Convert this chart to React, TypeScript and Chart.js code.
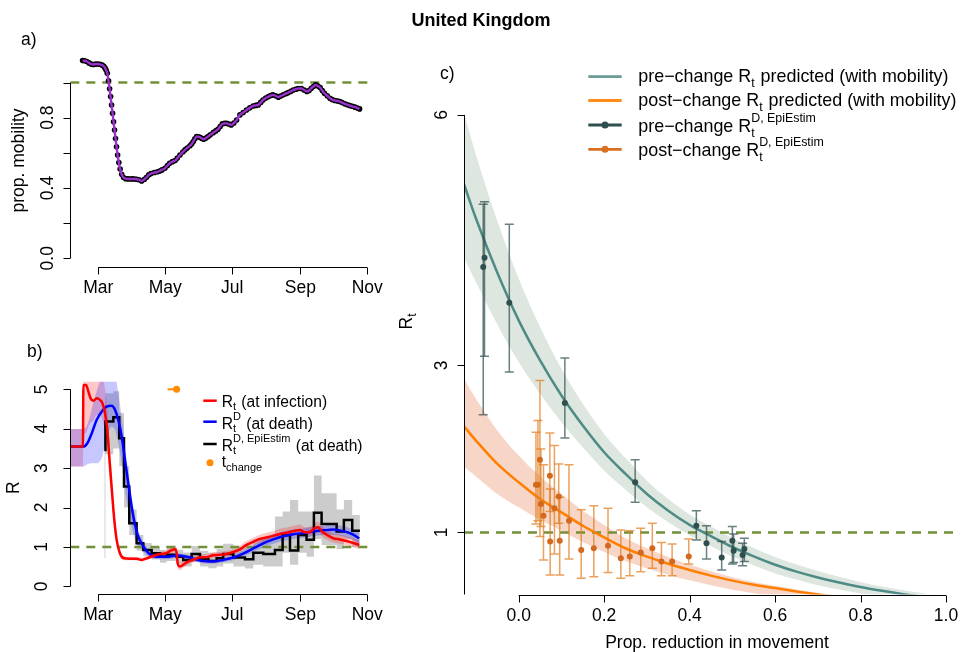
import React, { useEffect, useRef } from "react";
import { Chart, registerables } from "chart.js";

Chart.register(...registerables);

const W = 962;
const H = 652;
const FONT = '"Liberation Sans", Arial, Helvetica, sans-serif';
const FS = 17.5;

// ---------------- Panel a: mobility ----------------
const mobilityDays = [
  -14.3, -12.5, -10.5, -8.5, -6.5, -4.5, -2.5, -0.5, 1.5, 3.5,
  5, 6.2, 7.2, 8.2, 9.3, 10.3, 11.2, 12.1, 13, 13.9,
  14.8, 15.7, 16.6, 17.6, 18.7, 19.9, 21.3, 23, 25, 27,
  29, 31, 33, 35, 37, 39.5, 42, 44, 46, 48,
  51, 54, 56, 58, 60.7, 63, 65, 67.5, 70, 72,
  74.4, 77, 79, 81, 83.5, 85, 86.5, 88, 89.6, 91,
  92.6, 94, 96, 98, 100, 102, 104.7, 107, 109, 111,
  113, 115, 117, 119, 121, 123.5, 126, 129, 132, 135,
  138, 141, 143.5, 145.7, 148, 150, 152.5, 155, 157, 159,
  161.5, 164, 166, 168.5, 171, 173, 175.5, 177.6, 180, 182,
  185, 187.5, 190, 192, 194, 196, 198, 200, 202, 204,
  206, 208.5, 211, 213, 215.5, 218, 220, 222, 224.6, 227,
  229, 231.5, 233.8, 236, 238,
];
const mobilityValues = [
  1.125, 1.124, 1.12, 1.112, 1.105, 1.103, 1.105, 1.106, 1.104, 1.099,
  1.093, 1.082, 1.07, 1.053, 1.01, 0.965, 0.92, 0.872, 0.825, 0.777,
  0.73, 0.682, 0.635, 0.588, 0.545, 0.508, 0.478, 0.46, 0.453, 0.452,
  0.451, 0.452, 0.451, 0.45, 0.447, 0.44, 0.45, 0.461, 0.475, 0.482,
  0.488, 0.492, 0.497, 0.503, 0.512, 0.528, 0.541, 0.55, 0.556, 0.57,
  0.588, 0.605, 0.617, 0.628, 0.64, 0.65, 0.664, 0.68, 0.693, 0.692,
  0.689, 0.683, 0.677, 0.684, 0.693, 0.703, 0.715, 0.725, 0.734, 0.75,
  0.765, 0.768, 0.768, 0.764, 0.759, 0.77, 0.787, 0.816, 0.83, 0.844,
  0.856, 0.867, 0.87, 0.873, 0.887, 0.901, 0.912, 0.92, 0.926, 0.93,
  0.925, 0.917, 0.923, 0.93, 0.937, 0.943, 0.95, 0.958, 0.962, 0.966,
  0.966, 0.958, 0.949, 0.955, 0.968, 0.978, 0.987, 0.98, 0.972, 0.955,
  0.939, 0.925, 0.911, 0.903, 0.898, 0.895, 0.892, 0.886, 0.879, 0.874,
  0.869, 0.865, 0.86, 0.855, 0.85,
];

// month ticks (days since 1 March)
const monthDays = [0, 61, 122, 184, 245];
const monthLabels = ["Mar", "May", "Jul", "Sep", "Nov"];
const dayMin = -25.5;
const dayMax = 248.4;

const mobilityTicks = [0, 0.2, 0.4, 0.6, 0.8, 1.0];
const mobilityTickLabels = ["0.0", "", "0.4", "", "0.8", ""];
const referenceLevel = 1;

// ---------------- Panel b: R over time ----------------
const rInfDays = [
  -25, -14, -13.6, -11.2, -9, -7, -4.6, -1.5, 1.5, 4,
  6.1, 8.2, 10, 12.1, 14.3, 16.7, 19.7, 23.4, 28.8, 34.9,
  39.5, 44, 50, 56, 62, 66.8, 70.4, 71.6, 72.3, 74.4,
  78.9, 83.5, 88, 92.6, 98.7, 104.7, 110.8, 116.9, 123, 129,
  135, 141, 147, 153, 159, 165.5, 171.5, 177.6, 183.7, 188.2,
  192.8, 197.3, 200.4, 203.4, 208, 214, 220, 226, 232.2, 237.7,
];
const rInfValues = [
  3.545, 3.545, 5.11, 5.11, 4.94, 4.77, 4.71, 4.77, 4.73, 4.63,
  4.39, 3.97, 3.29, 2.53, 1.77, 1.18, 0.84, 0.71, 0.7, 0.7,
  0.67, 0.71, 0.77, 0.82, 0.84, 0.92, 0.94, 0.8, 0.58, 0.5,
  0.58, 0.65, 0.69, 0.74, 0.74, 0.79, 0.8, 0.82, 0.87, 0.94,
  1.05, 1.13, 1.2, 1.24, 1.28, 1.33, 1.36, 1.4, 1.43, 1.37,
  1.38, 1.48, 1.5, 1.4, 1.31, 1.22, 1.19, 1.15, 1.1, 1.05,
];
const rInfLower = [
  3.04, 3.04, 3.7, 3.9, 4.05, 4.15, 4.2, 4.35, 4.35, 4.2,
  3.95, 3.5, 2.85, 2.2, 1.55, 1.05, 0.77, 0.66, 0.66, 0.66,
  0.63, 0.67, 0.72, 0.77, 0.78, 0.85, 0.86, 0.7, 0.46, 0.41,
  0.5, 0.58, 0.62, 0.67, 0.67, 0.72, 0.73, 0.75, 0.8, 0.86,
  0.96, 1.04, 1.1, 1.13, 1.17, 1.21, 1.24, 1.28, 1.3, 1.25,
  1.26, 1.35, 1.37, 1.28, 1.19, 1.11, 1.08, 1.04, 0.99, 0.94,
];
const rInfUpper = [
  3.99, 3.99, 5.9, 5.9, 5.7, 5.5, 5.4, 5.45, 5.4, 5.3,
  5.0, 4.5, 3.75, 2.9, 2.0, 1.33, 0.92, 0.77, 0.75, 0.75,
  0.72, 0.76, 0.83, 0.88, 0.91, 1.0, 1.03, 0.92, 0.72, 0.62,
  0.67, 0.73, 0.77, 0.82, 0.82, 0.87, 0.88, 0.9, 0.95, 1.03,
  1.15, 1.23, 1.31, 1.36, 1.4, 1.46, 1.49, 1.53, 1.57, 1.5,
  1.51, 1.62, 1.64, 1.53, 1.44, 1.34, 1.31, 1.27, 1.22, 1.17,
];

const rDeathDays = [
  -25, -13.7, -10, -6, -1.5, 3, 7.6, 12.1, 15.2, 18.2,
  21.3, 24.3, 27.3, 30.4, 33.4, 36.4, 41, 45.5, 50.1, 56.2,
  62.2, 71.3, 80.4, 89.6, 95.6, 104.7, 113.8, 123, 132, 141.2,
  150.3, 159.4, 168.5, 177.6, 186.7, 195.8, 205, 214, 223.1, 230.7,
  237.7,
];
const rDeathValues = [
  3.545, 3.545, 3.63, 3.88, 4.22, 4.43, 4.56, 4.58, 4.48, 4.22,
  3.8, 3.21, 2.61, 2.02, 1.56, 1.26, 1.01, 0.85, 0.77, 0.75,
  0.75, 0.78, 0.75, 0.68, 0.64, 0.63, 0.67, 0.73, 0.83, 0.96,
  1.09, 1.19, 1.27, 1.32, 1.35, 1.39, 1.42, 1.44, 1.4, 1.33,
  1.22,
];
const rDeathLower = [
  3.04, 3.04, 3.1, 3.12, 3.12, 3.25, 3.75, 4.05, 3.97, 3.63,
  3.12, 2.44, 1.95, 1.5, 1.2, 1.05, 0.88, 0.76, 0.7, 0.69,
  0.69, 0.72, 0.69, 0.62, 0.58, 0.57, 0.61, 0.66, 0.75, 0.87,
  0.99, 1.08, 1.15, 1.2, 1.23, 1.27, 1.3, 1.31, 1.27, 1.2,
  1.08,
];
const rDeathUpper = [
  3.99, 3.99, 4.1, 4.5, 4.95, 5.3, 5.5, 5.5, 5.4, 4.9,
  4.3, 3.6, 2.9, 2.3, 1.8, 1.42, 1.13, 0.94, 0.84, 0.81,
  0.81, 0.84, 0.81, 0.74, 0.7, 0.69, 0.73, 0.8, 0.91, 1.05,
  1.19, 1.3, 1.39, 1.44, 1.47, 1.51, 1.54, 1.57, 1.53, 1.46,
  1.36,
];

const epiDays = [
  5.5, 6.5, 13.7, 19.1, 23.4, 28.2, 34.9, 41, 48.6, 56.2,
  62.2, 71.3, 77.4, 85, 92.6, 100.2, 107.8, 113.8, 123, 133.6,
  141.2, 150.3, 160.9, 167.9, 174.6, 182.1, 189.7, 196.4, 203.4, 217.1,
  223.7, 231.3, 238.3,
];
const epiValues = [
  3.46, 4.18, 4.29, 3.76, 2.53, 1.6, 1.09, 0.92, 0.84, 0.75,
  0.8, 0.75, 0.67, 0.82, 0.69, 0.64, 0.71, 0.82, 0.73, 0.69,
  0.85, 0.82, 0.92, 1.3, 0.91, 1.3, 1.18, 1.87, 1.58, 1.39,
  1.68, 1.41, 1.41,
];
const epiLower = [
  0.72, 3.35, 3.5, 3.05, 2.0, 1.3, 0.9, 0.76, 0.68, 0.6,
  0.64, 0.58, 0.5, 0.62, 0.5, 0.46, 0.5, 0.58, 0.5, 0.45,
  0.55, 0.5, 0.5, 0.85, 0.55, 0.85, 0.75, 1.2, 1.05, 0.95,
  1.2, 1.0, 1.0,
];
const epiUpper = [
  4.6, 4.9, 4.95, 4.4, 3.05, 1.95, 1.3, 1.1, 1.0, 0.92,
  0.97, 0.93, 0.86, 1.02, 0.9, 0.85, 0.95, 1.08, 1.0, 0.98,
  1.2, 1.25, 1.77, 1.9, 2.19, 1.9, 1.9, 2.81, 2.36, 1.95,
  2.19, 1.81, 1.81,
];

const tChangeDays = [63.1, 71.3];
const tChangeLevel = 5;
const rTicks = [0, 1, 2, 3, 4, 5];

// ---------------- Panel c: R vs reduction in movement ----------------
const reductionGrid = [
  -0.128, -0.1, -0.05, 0, 0.05, 0.1, 0.15, 0.2, 0.25, 0.3,
  0.35, 0.4, 0.45, 0.5, 0.55, 0.6, 0.65, 0.7, 0.75, 0.8,
  0.85, 0.9, 0.95, 1.0, 1.03,
];
const preCurve = [
  5.17, 4.76, 4.11, 3.54, 3.06, 2.64, 2.28, 1.96, 1.7, 1.46,
  1.26, 1.09, 0.955, 0.825, 0.712, 0.612, 0.53, 0.46, 0.4, 0.345,
  0.3, 0.26, 0.226, 0.196, 0.18,
];
const preLower = [
  4.29, 4.0, 3.49, 3.04, 2.66, 2.32, 2.02, 1.74, 1.51, 1.3,
  1.12, 0.965, 0.835, 0.71, 0.605, 0.508, 0.435, 0.368, 0.316, 0.269,
  0.231, 0.198, 0.17, 0.147, 0.135,
];
const preUpper = [
  6.02, 5.52, 4.73, 4.04, 3.46, 2.96, 2.54, 2.18, 1.89, 1.62,
  1.4, 1.215, 1.07, 0.932, 0.812, 0.704, 0.615, 0.538, 0.468, 0.404,
  0.351, 0.307, 0.267, 0.231, 0.212,
];
const postCurve = [
  2.27, 2.1, 1.82, 1.6, 1.4, 1.24, 1.08, 0.94, 0.81, 0.71,
  0.625, 0.55, 0.482, 0.422, 0.372, 0.333, 0.293, 0.256, 0.225, 0.2,
  0.18, 0.162, 0.145, 0.13, 0.12,
];
const postLower = [
  1.79, 1.67, 1.46, 1.3, 1.15, 1.02, 0.886, 0.766, 0.656, 0.568,
  0.494, 0.426, 0.366, 0.314, 0.272, 0.24, 0.208, 0.18, 0.158, 0.14,
  0.126, 0.113, 0.1, 0.09, 0.084,
];
const postUpper = [
  2.84, 2.6, 2.22, 1.92, 1.67, 1.46, 1.26, 1.09, 0.93, 0.81,
  0.706, 0.616, 0.535, 0.464, 0.405, 0.36, 0.316, 0.277, 0.243, 0.216,
  0.194, 0.175, 0.157, 0.14, 0.13,
];

const preX = [-0.083, -0.08, -0.022, 0.108, 0.2725, 0.4157, 0.4395, 0.475, 0.5, 0.503, 0.524, 0.528];
const preR = [4.18, 4.29, 3.75, 2.55, 1.6, 1.08, 0.87, 0.7, 0.9, 0.78, 0.73, 0.8];
const preLo = [2.41, 3.11, 2.92, 2.13, 1.36, 0.91, 0.68, 0.55, 0.62, 0.64, 0.6, 0.65];
const preHi = [4.93, 4.96, 4.69, 3.09, 1.87, 1.26, 1.08, 0.89, 1.07, 0.98, 0.87, 0.93];

const postX = [
  0.0404, 0.045, 0.0497, 0.052, 0.058, 0.073, 0.0736, 0.0836, 0.0937, 0.096,
  0.1177, 0.1463, 0.1758, 0.209, 0.239, 0.26, 0.2856, 0.3127, 0.334, 0.359, 0.398,
];
const postR = [
  1.57, 1.57, 1.87, 1.34, 1.2, 1.68, 0.89, 1.29, 1.43, 0.9,
  1.14, 0.79, 0.81, 0.84, 0.69, 0.71, 0.76, 0.81, 0.65, 0.65, 0.71,
];
const postLo = [
  1.1, 1.14, 0.95, 1.07, 0.67, 1.25, 0.49, 0.74, 1.11, 0.49,
  0.68, 0.45, 0.47, 0.52, 0.45, 0.48, 0.53, 0.57, 0.48, 0.48, 0.62,
];
const postHi = [
  2.2, 2.34, 2.82, 2.0, 1.81, 2.19, 1.52, 2.04, 1.82, 1.42,
  1.81, 1.27, 1.32, 1.29, 1.03, 1.02, 1.05, 1.11, 0.88, 0.86, 0.92,
];

const reductionTicks = [0, 0.2, 0.4, 0.6, 0.8, 1.0];
const reductionTickLabels = ["0.0", "0.2", "0.4", "0.6", "0.8", "1.0"];
const rtTicks = [1, 3, 6];
const redMin = -0.128;
const redMax = 1.028;

// ---------------- colours ----------------
const GREEN_DASH = "#73903A";
const PURPLE = "#9A32CD";
const TEAL_LINE = "#4E8B85";
const TEAL_DARK = "#2F4F4F";
const ORANGE_LINE = "#FF7F00";
const ORANGE_PT = "#D2691E";

// ---------------- helpers ----------------
const pts = (xs: number[], ys: number[]) => xs.map((x, i) => ({ x, y: ys[i] }));

type Seg = { t?: string; sup?: string; sub?: string };
type RichStyle = { size: number; small: number; raise: number; drop: number; dropBoth: number };

const RICH_C: RichStyle = { size: 17.9, small: 12.4, raise: 9.2, drop: 4.5, dropBoth: 5.5 };
const RICH_B: RichStyle = { size: 15.6, small: 11, raise: 8.2, drop: 3.8, dropBoth: 3.8 };
const RICH_AX: RichStyle = { size: FS, small: 12.2, raise: 9, drop: 4, dropBoth: 5 };

function drawRich(ctx: CanvasRenderingContext2D, x: number, y: number, segs: Seg[], st: RichStyle, measureOnly = false): number {
  let cx = x;
  for (const s of segs) {
    if (s.t !== undefined) {
      ctx.font = `${st.size}px ${FONT}`;
      if (!measureOnly) ctx.fillText(s.t, cx, y);
      cx += ctx.measureText(s.t).width;
    } else {
      ctx.font = `${st.small}px ${FONT}`;
      let w = 0;
      if (s.sup) {
        if (!measureOnly) ctx.fillText(s.sup, cx, y - st.raise);
        w = Math.max(w, ctx.measureText(s.sup).width);
      }
      if (s.sub) {
        if (!measureOnly) ctx.fillText(s.sub, cx, y + (s.sup ? st.dropBoth : st.drop));
        w = Math.max(w, ctx.measureText(s.sub).width);
      }
      cx += w + 1;
    }
  }
  return cx - x;
}

function rotLabel(ctx: CanvasRenderingContext2D, text: string, x: number, y: number, size = FS) {
  ctx.save();
  ctx.translate(x, y);
  ctx.rotate(-Math.PI / 2);
  ctx.font = `${size}px ${FONT}`;
  ctx.textAlign = "center";
  ctx.textBaseline = "alphabetic";
  ctx.fillText(text, 0, 0);
  ctx.restore();
}

function drawXAxis(chart: any, ticks: number[], labels: string[], from: number, to: number) {
  const ctx: CanvasRenderingContext2D = chart.ctx;
  const sx = chart.scales.x;
  const y0 = Math.round(chart.chartArea.bottom) + 0.5;
  ctx.save();
  ctx.strokeStyle = "#000";
  ctx.lineWidth = 1;
  ctx.beginPath();
  ctx.moveTo(sx.getPixelForValue(from), y0);
  ctx.lineTo(sx.getPixelForValue(to), y0);
  ticks.forEach((t) => {
    const px = Math.round(sx.getPixelForValue(t)) + 0.5;
    ctx.moveTo(px, y0);
    ctx.lineTo(px, y0 + 7);
  });
  ctx.stroke();
  ctx.fillStyle = "#000";
  ctx.font = `${FS}px ${FONT}`;
  ctx.textAlign = "center";
  ctx.textBaseline = "alphabetic";
  ticks.forEach((t, i) => {
    if (labels[i]) ctx.fillText(labels[i], sx.getPixelForValue(t), chart.chartArea.bottom + 26);
  });
  ctx.restore();
}

function drawYAxis(chart: any, ticks: number[], labels: string[], from: number, to: number | null, labelX: number) {
  const ctx: CanvasRenderingContext2D = chart.ctx;
  const sy = chart.scales.y;
  const x0 = Math.round(chart.chartArea.left) + 0.5;
  ctx.save();
  ctx.strokeStyle = "#000";
  ctx.lineWidth = 1;
  ctx.beginPath();
  ctx.moveTo(x0, sy.getPixelForValue(from));
  ctx.lineTo(x0, to === null ? chart.chartArea.bottom : sy.getPixelForValue(to));
  ticks.forEach((t) => {
    const py = Math.round(sy.getPixelForValue(t)) + 0.5;
    ctx.moveTo(x0, py);
    ctx.lineTo(x0 - 7, py);
  });
  ctx.stroke();
  ctx.fillStyle = "#000";
  ticks.forEach((t, i) => {
    if (labels[i]) rotLabel(ctx, labels[i], labelX, sy.getPixelForValue(t));
  });
  ctx.restore();
}

function baseOptions(xMin: number, xMax: number, yMin: number, yMax: number, padding: any) {
  return {
    animation: false,
    responsive: false,
    events: [],
    layout: { padding },
    plugins: { legend: { display: false }, tooltip: { enabled: false }, title: { display: false } },
    scales: {
      x: { type: "linear", min: xMin, max: xMax, display: false },
      y: { type: "linear", min: yMin, max: yMax, display: false },
    },
    elements: { point: { radius: 0 }, line: { tension: 0 } },
  };
}

// datasets given bottom -> top; assign order so later ones draw on top
function ordered(list: any[]) {
  const n = list.length;
  return list.map((d, i) => ({ ...d, order: n - i }));
}

function band(upper: any[], lower: any[], color: string, lowerIndex: number, stepped = false) {
  return [
    { data: upper, borderWidth: 0, borderColor: "rgba(0,0,0,0)", backgroundColor: color, pointRadius: 0, fill: lowerIndex, stepped, cubicInterpolationMode: stepped ? "default" : "monotone" },
    { data: lower, borderWidth: 0, borderColor: "rgba(0,0,0,0)", pointRadius: 0, fill: false, stepped, cubicInterpolationMode: stepped ? "default" : "monotone" },
  ];
}

// ---------------- chart builders ----------------
function buildA(canvas: HTMLCanvasElement) {
  const datasets = ordered([
    { data: [{ x: dayMin, y: referenceLevel }, { x: dayMax, y: referenceLevel }], borderColor: GREEN_DASH, borderWidth: 2.5, borderDash: [9, 7], pointRadius: 0 },
    { data: pts(mobilityDays, mobilityValues), showLine: false, pointRadius: 2.8, pointBackgroundColor: "#000", pointBorderWidth: 0 },
    { data: pts(mobilityDays, mobilityValues), borderColor: PURPLE, borderWidth: 2.4, pointRadius: 0, cubicInterpolationMode: "monotone" },
  ]);
  const plugin = {
    id: "axesA",
    afterDraw(chart: any) {
      const ctx: CanvasRenderingContext2D = chart.ctx;
      drawXAxis(chart, monthDays, monthLabels, monthDays[0], monthDays[monthDays.length - 1]);
      drawYAxis(chart, mobilityTicks, mobilityTickLabels, 0, 1.0, 53);
      ctx.save();
      ctx.fillStyle = "#000";
      rotLabel(ctx, "prop. mobility", 24, 160.5);
      ctx.font = `bold 18px ${FONT}`;
      ctx.textAlign = "center";
      ctx.fillText("United Kingdom", 481, 26);
      ctx.font = `${FS}px ${FONT}`;
      ctx.textAlign = "left";
      ctx.fillText("a)", 21, 45);
      ctx.fillText("b)", 27, 357);
      ctx.fillText("c)", 440, 79);
      ctx.restore();
    },
  };
  return new Chart(canvas, {
    type: "line",
    data: { datasets },
    options: baseOptions(dayMin, dayMax, -0.048, 1.1626, { left: 70.3, right: W - 371, top: 54, bottom: H - 266.7 }) as any,
    plugins: [plugin],
  } as any);
}

function buildB(canvas: HTMLCanvasElement) {
  const list: any[] = [];
  list.push(...band(pts(epiDays, epiUpper), pts(epiDays, epiLower), "rgba(0,0,0,0.2)", 1, true)); // 0,1
  list.push(...band(pts(rInfDays, rInfUpper), pts(rInfDays, rInfLower), "rgba(255,0,0,0.22)", 3)); // 2,3
  list.push(...band(pts(rDeathDays, rDeathUpper), pts(rDeathDays, rDeathLower), "rgba(0,0,255,0.22)", 5)); // 4,5
  list.push({ data: [{ x: dayMin, y: referenceLevel }, { x: dayMax, y: referenceLevel }], borderColor: GREEN_DASH, borderWidth: 2.5, borderDash: [9, 7], pointRadius: 0 });
  list.push({ data: pts(epiDays, epiValues), borderColor: "#000", borderWidth: 2.5, stepped: true, pointRadius: 0 });
  list.push({ data: pts(rDeathDays, rDeathValues), borderColor: "#0000FF", borderWidth: 2.5, pointRadius: 0, cubicInterpolationMode: "monotone" });
  list.push({ data: pts(rInfDays, rInfValues), borderColor: "#FF0000", borderWidth: 2.5, pointRadius: 0, cubicInterpolationMode: "monotone" });
  list.push({
    data: tChangeDays.map((d) => ({ x: d, y: tChangeLevel })),
    borderColor: "#FF8C00", borderWidth: 2, pointRadius: [0, 3.5], pointBackgroundColor: "#FF8C00", pointBorderWidth: 0,
  });
  const datasets = ordered(list);
  const plugin = {
    id: "axesB",
    afterDraw(chart: any) {
      const ctx: CanvasRenderingContext2D = chart.ctx;
      drawXAxis(chart, monthDays, monthLabels, monthDays[0], monthDays[monthDays.length - 1]);
      drawYAxis(chart, rTicks, rTicks.map(String), 0, 5, 47);
      ctx.save();
      ctx.fillStyle = "#000";
      rotLabel(ctx, "R", 19, 487.8);
      const lx = 221.7;
      const rows: { seg: Seg[]; y: number; my: number; color: string; point?: boolean }[] = [
        { seg: [{ t: "R" }, { sub: "t" }, { t: " (at infection)" }], y: 406.5, my: 400.7, color: "#FF0000" },
        { seg: [{ t: "R" }, { sup: "D", sub: "t" }, { t: " (at death)" }], y: 428.5, my: 421.7, color: "#0000FF" },
        { seg: [{ t: "R" }, { sup: "D, EpiEstim", sub: "t" }, { t: " (at death)" }], y: 450.5, my: 444, color: "#000" },
        { seg: [{ t: "t" }, { sub: "change" }], y: 467, my: 462.7, color: "#FF8C00", point: true },
      ];
      rows.forEach((r) => {
        if (r.point) {
          ctx.fillStyle = r.color;
          ctx.beginPath();
          ctx.arc(210, r.my, 3.5, 0, Math.PI * 2);
          ctx.fill();
        } else {
          ctx.strokeStyle = r.color;
          ctx.lineWidth = 2.5;
          ctx.beginPath();
          ctx.moveTo(203.3, r.my);
          ctx.lineTo(216.7, r.my);
          ctx.stroke();
        }
        ctx.fillStyle = "#000";
        ctx.textAlign = "left";
        drawRich(ctx, lx, r.y, r.seg, RICH_B);
      });
      ctx.restore();
    },
  };
  return new Chart(canvas, {
    type: "line",
    data: { datasets },
    options: baseOptions(dayMin, dayMax, -0.2, 5.2, { left: 70.3, right: W - 371, top: 381.4, bottom: H - 594.2 }) as any,
    plugins: [plugin],
  } as any);
}

function drawErrorBars(chart: any, xs: number[], los: number[], his: number[], color: string) {
  const ctx: CanvasRenderingContext2D = chart.ctx;
  const sx = chart.scales.x;
  const sy = chart.scales.y;
  ctx.save();
  ctx.strokeStyle = color;
  ctx.lineWidth = 1.5;
  xs.forEach((x, i) => {
    const px = sx.getPixelForValue(x);
    const y1 = sy.getPixelForValue(los[i]);
    const y2 = sy.getPixelForValue(his[i]);
    ctx.beginPath();
    ctx.moveTo(px, y1);
    ctx.lineTo(px, y2);
    ctx.moveTo(px - 4.5, y1);
    ctx.lineTo(px + 4.5, y1);
    ctx.moveTo(px - 4.5, y2);
    ctx.lineTo(px + 4.5, y2);
    ctx.stroke();
  });
  ctx.restore();
}

function buildC(canvas: HTMLCanvasElement) {
  const list: any[] = [];
  list.push(...band(pts(reductionGrid, preUpper), pts(reductionGrid, preLower), "rgba(100,140,110,0.22)", 1)); // 0,1
  list.push(...band(pts(reductionGrid, postUpper), pts(reductionGrid, postLower), "rgba(230,120,70,0.3)", 3)); // 2,3
  list.push({ data: [{ x: redMin, y: referenceLevel }, { x: redMax, y: referenceLevel }], borderColor: GREEN_DASH, borderWidth: 2.5, borderDash: [9, 7], pointRadius: 0 });
  list.push({ data: pts(reductionGrid, postCurve), borderColor: ORANGE_LINE, borderWidth: 2.5, pointRadius: 0, cubicInterpolationMode: "monotone" });
  list.push({ data: pts(reductionGrid, preCurve), borderColor: TEAL_LINE, borderWidth: 2.5, pointRadius: 0, cubicInterpolationMode: "monotone" });
  const POST_PTS = list.length;
  list.push({ data: pts(postX, postR), showLine: false, pointRadius: 3, pointBackgroundColor: ORANGE_PT, pointBorderWidth: 0 });
  const PRE_PTS = list.length;
  list.push({ data: pts(preX, preR), showLine: false, pointRadius: 3, pointBackgroundColor: TEAL_DARK, pointBorderWidth: 0 });
  const datasets = ordered(list);
  const plugin = {
    id: "axesC",
    beforeDatasetDraw(chart: any, args: any) {
      if (args.index === POST_PTS) drawErrorBars(chart, postX, postLo, postHi, "rgba(225,125,30,0.72)");
      if (args.index === PRE_PTS) drawErrorBars(chart, preX, preLo, preHi, "rgba(47,79,79,0.72)");
    },
    afterDraw(chart: any) {
      const ctx: CanvasRenderingContext2D = chart.ctx;
      drawXAxis(chart, reductionTicks, reductionTickLabels, 0, 1);
      drawYAxis(chart, rtTicks, rtTicks.map(String), 6, null, 446.6);
      ctx.save();
      ctx.fillStyle = "#000";
      ctx.font = `${FS}px ${FONT}`;
      ctx.textAlign = "center";
      ctx.fillText("Prop. reduction in movement", 717, 648);
      ctx.save();
      ctx.translate(412, 321);
      ctx.rotate(-Math.PI / 2);
      ctx.textAlign = "left";
      const wR = drawRich(ctx, 0, 0, [{ t: "R" }, { sub: "t" }], RICH_AX, true);
      drawRich(ctx, -wR / 2, 0, [{ t: "R" }, { sub: "t" }], RICH_AX);
      ctx.restore();
      const rows: { seg: Seg[]; y: number; my: number; color: string; point?: boolean }[] = [
        { seg: [{ t: "pre\u2212change R" }, { sub: "t" }, { t: " predicted (with mobility)" }], y: 82, my: 76.7, color: "#6A9C98" },
        { seg: [{ t: "post\u2212change R" }, { sub: "t" }, { t: " predicted (with mobility)" }], y: 106, my: 100.5, color: "#FF8C1A" },
        { seg: [{ t: "pre\u2212change R" }, { sup: "D, EpiEstim", sub: "t" }], y: 131.5, my: 125, color: TEAL_DARK, point: true },
        { seg: [{ t: "post\u2212change R" }, { sup: "D, EpiEstim", sub: "t" }], y: 155.5, my: 149.3, color: "#D87020", point: true },
      ];
      rows.forEach((r) => {
        ctx.strokeStyle = r.color;
        ctx.lineWidth = 2.8;
        ctx.beginPath();
        ctx.moveTo(588.3, r.my);
        ctx.lineTo(621.7, r.my);
        ctx.stroke();
        if (r.point) {
          ctx.fillStyle = r.color;
          ctx.beginPath();
          ctx.arc(605, r.my, 3.5, 0, Math.PI * 2);
          ctx.fill();
        }
        ctx.fillStyle = "#000";
        ctx.textAlign = "left";
        drawRich(ctx, 638.3, r.y, r.seg, RICH_C);
      });
      ctx.restore();
    },
  };
  return new Chart(canvas, {
    type: "line",
    data: { datasets },
    options: baseOptions(redMin, redMax, 0.256, 6.2, { left: 464, right: W - 962, top: 98.3, bottom: H - 594.5 }) as any,
    plugins: [plugin],
  } as any);
}

export default function App() {
  const aRef = useRef<HTMLCanvasElement>(null);
  const bRef = useRef<HTMLCanvasElement>(null);
  const cRef = useRef<HTMLCanvasElement>(null);
  useEffect(() => {
    const charts = [buildA(aRef.current!), buildB(bRef.current!), buildC(cRef.current!)];
    return () => charts.forEach((c) => c.destroy());
  }, []);
  const st: React.CSSProperties = { position: "absolute", left: 0, top: 0, width: W, height: H, display: "block" };
  return (
    <div style={{ position: "absolute", left: 0, top: 0, width: W, height: H, background: "#fff", overflow: "hidden" }}>
      <canvas ref={aRef} width={W} height={H} style={st} />
      <canvas ref={bRef} width={W} height={H} style={st} />
      <canvas ref={cRef} width={W} height={H} style={st} />
    </div>
  );
}
